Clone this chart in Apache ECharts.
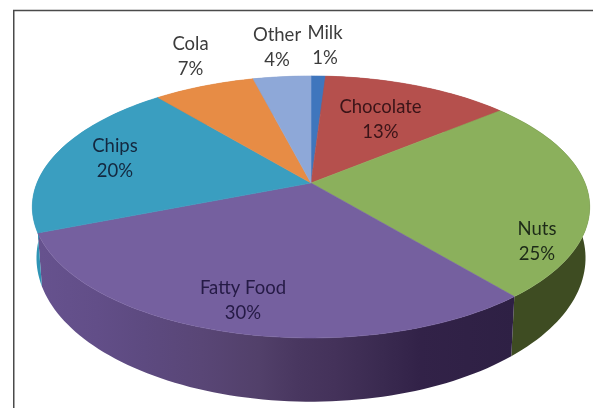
<!DOCTYPE html>
<html>
<head>
<meta charset="utf-8">
<style>html,body{margin:0;padding:0;background:#fff}#chart{width:593px;height:408px}</style>
<script src="https://cdn.jsdelivr.net/npm/echarts@6/dist/echarts.min.js"></script>
</head>
<body>
<div id="chart"></div>
<script>
// Snack shares, clockwise from twelve o'clock.
const categories = ['Milk', 'Chocolate', 'Nuts', 'Fatty Food', 'Chips', 'Cola', 'Other'];
const shares = [1, 13, 25, 30, 20, 7, 4];

// Slice colours for the top face and the outer wall.
const topColors = ['#3f76bd', '#b5504d', '#8bb05c', '#75609f', '#3a9ec0', '#e78c45', '#8ea8d8'];
const wallFill = {
  type: 'linear', global: true, x: 40, y: 0, x2: 515, y2: 0,
  colorStops: [
    { offset: 0, color: '#66528e' }, { offset: 0.12, color: '#624e88' },
    { offset: 0.22, color: '#5d4a80' }, { offset: 0.34, color: '#594676' },
    { offset: 0.46, color: '#52406a' }, { offset: 0.54, color: '#493760' },
    { offset: 0.62, color: '#44325a' }, { offset: 0.72, color: '#3a2a50' },
    { offset: 0.8, color: '#322248' }, { offset: 1, color: '#2e2044' }
  ]
};
const wallColors = ['#2f5f99', '#8f3d3b', '#3e4c22', wallFill, '#2f94b5', '#b86c30', '#6f86ad'];

// Perspective of the disc: screen position of a point on the unit circle.
const hub = { x: 311, y: 183 };
const spanX = 274;
const spanY = 126.6;
const tilt = -0.183;
const wallScaleX = 0.985;

function project(u, v) {
  const w = 1 + tilt * v;
  return [hub.x + spanX * u / w, hub.y + spanY * v / w];
}
function lowerRim(p) {
  return [hub.x + (p[0] - hub.x) * wallScaleX, p[1] + 51 + 0.097 * (p[1] - 207)];
}
function rimPoint(turn) {
  const a = turn * 2 * Math.PI;
  return project(Math.sin(a), -Math.cos(a));
}

const total = shares.reduce((s, v) => s + v, 0);
function sliceRange(api, index) {
  let before = 0;
  for (let i = 0; i < index; i++) before += shares[i];
  const value = api.value(0);
  return [before / total, (before + value) / total];
}
function rimArc(from, to) {
  const steps = Math.max(2, Math.ceil((to - from) * 240));
  const pts = [];
  for (let i = 0; i <= steps; i++) pts.push(rimPoint(from + (to - from) * i / steps));
  return pts;
}

function renderTop(params, api) {
  const r = sliceRange(api, params.dataIndex);
  const color = topColors[params.dataIndex];
  return {
    type: 'polygon',
    shape: { points: [[hub.x, hub.y]].concat(rimArc(r[0], r[1])) },
    style: { fill: color, stroke: color, lineWidth: 0.6 }
  };
}
function renderWall(params, api) {
  const r = sliceRange(api, params.dataIndex);
  const upper = rimArc(r[0], r[1]);
  const lower = upper.map(lowerRim).reverse();
  return {
    type: 'polygon',
    shape: { points: upper.concat(lower) },
    style: { fill: wallColors[params.dataIndex] }
  };
}

// Label centres and tints for the data labels.
const labelSpots = [[325, 46], [380.5, 120], [537, 242], [243, 301], [115, 158.5], [190.5, 57], [277, 48]];
const labelInk = ['#3c3c3c', '#3a1418', '#1d2a18', '#251a45', '#14283f', '#3c3c3c', '#3c3c3c'];
function renderLabel(params, api) {
  const i = params.dataIndex;
  return {
    type: 'text',
    x: labelSpots[i][0],
    y: labelSpots[i][1],
    style: {
      text: categories[i] + '\n' + api.value(0) + '%',
      fill: labelInk[i],
      font: '18.5px Lato, "Open Sans", sans-serif',
      lineHeight: 25,
      align: 'center',
      verticalAlign: 'middle'
    }
  };
}

const chart = echarts.init(document.getElementById('chart'), null, { renderer: 'canvas' });
const seriesData = shares.map(v => [v]);
chart.setOption({
  animation: false,
  backgroundColor: '#ffffff',
  graphic: [{
    type: 'rect',
    shape: { x: 13.75, y: 10.5, width: 640, height: 460 },
    style: { fill: 'none', stroke: '#4a4a4a', lineWidth: 1.5 },
    silent: true
  }],
  series: [
    { type: 'custom', coordinateSystem: 'none', z: 1, silent: true, renderItem: renderWall, data: seriesData },
    { type: 'custom', coordinateSystem: 'none', z: 2, silent: true, renderItem: renderTop, data: seriesData },
    { type: 'custom', coordinateSystem: 'none', z: 3, silent: true, renderItem: renderLabel, data: seriesData }
  ]
});
</script>
</body>
</html>
